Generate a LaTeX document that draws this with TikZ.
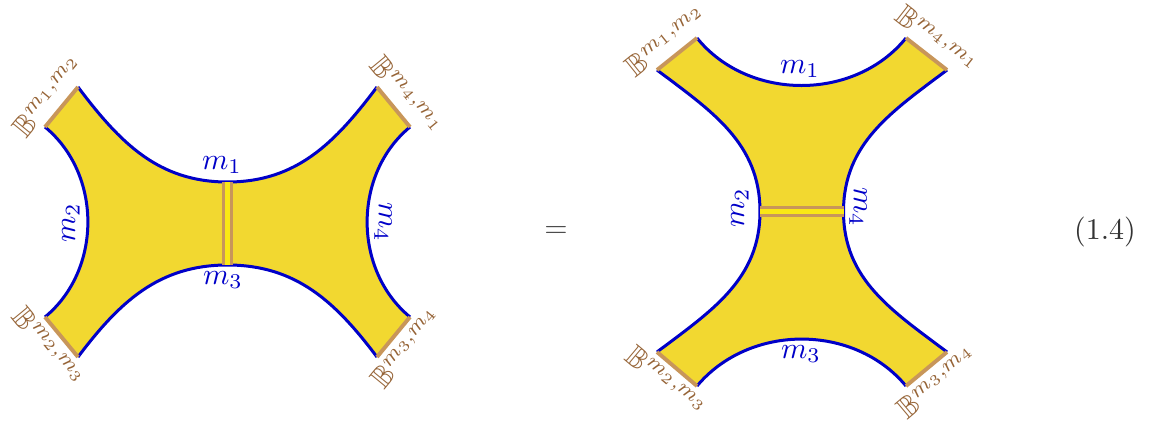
\documentclass[tikz,border=0pt]{standalone}
\usepackage{amsmath,amssymb}
\usepackage{tikz}
\usetikzlibrary{positioning, calc}
\definecolor{sheetyellow}{RGB}{242,216,48}
\definecolor{stripyellow}{RGB}{250,232,20}
\definecolor{edgetan}{RGB}{200,150,90}
\definecolor{labelbrown}{RGB}{150,100,55}
\definecolor{curveblue}{RGB}{0,0,200}

\begin{document}
\begin{tikzpicture}[x=0.3333pt, y=0.3333pt,
    blueedge/.style={draw=curveblue, line width=1pt},
    tanedge/.style={draw=edgetan, line width=1.3pt},
    strip/.style={draw=edgetan, line width=1.2pt, double=stripyellow, double distance=1.5pt},
    mlabel/.style={text=curveblue, inner sep=1pt},
    blabel/.style={text=labelbrown, inner sep=2pt}]
\useasboundingbox (0,0) rectangle (1153,423);

% left sheet
\coordinate (a1) at (45,296);  \coordinate (a2) at (78,336);
\coordinate (b1) at (377,336); \coordinate (b2) at (410,296);
\coordinate (c1) at (45,106);  \coordinate (c2) at (78,66);
\coordinate (d1) at (377,66);  \coordinate (d2) at (410,106);
\coordinate (lt) at (227.5,241); \coordinate (lb) at (227.5,158);

\fill[sheetyellow] (a2) to[out=-53,in=180] (lt) to[out=0,in=233] (b1) -- (b2)
    to[out=219.5,in=140.5] (d2) -- (d1) to[out=127,in=0] (lb) to[out=180,in=53] (c2)
    -- (c1) to[out=39.5,in=-39.5] (a1) -- cycle;
\draw[blueedge] (a2) to[out=-53,in=180] (lt) to[out=0,in=233] (b1);
\draw[blueedge] (b2) to[out=219.5,in=140.5] (d2);
\draw[blueedge] (d1) to[out=127,in=0] (lb) to[out=180,in=53] (c2);
\draw[blueedge] (c1) to[out=39.5,in=-39.5] (a1);
\draw[tanedge] (a1) -- (a2);
\draw[tanedge] (b1) -- (b2);
\draw[tanedge] (c1) -- (c2);
\draw[tanedge] (d1) -- (d2);
\draw[strip] (lt) -- (lb);

\node[mlabel] (lm1) at (222,258) {$m_1$};
\node[mlabel] (lm3) at (223,143) {$m_3$};
\node[mlabel, rotate=90] (lm2) at (71,200) {$m_2$};
\node[mlabel, rotate=-90] (lm4) at (383,201) {$m_4$};
\node[blabel, rotate=50.5, anchor=south] (lb12) at ($(a1)!0.5!(a2)$) {$\mathbb{B}^{m_1,m_2}$};
\node[blabel, rotate=-50.5, anchor=south] (lb41) at ($(b1)!0.5!(b2)$) {$\mathbb{B}^{m_4,m_1}$};
\node[blabel, rotate=-50.5, anchor=north] (lb23) at ($(c1)!0.5!(c2)$) {$\mathbb{B}^{m_2,m_3}$};
\node[blabel, rotate=50.5, anchor=north] (lb34) at ($(d1)!0.5!(d2)$) {$\mathbb{B}^{m_3,m_4}$};

\node[text=black!70] (eq) at (556,191) {$=$};

% right sheet
\coordinate (e1) at (657,353); \coordinate (e2) at (697,385);
\coordinate (f1) at (906,385); \coordinate (f2) at (947,353);
\coordinate (g1) at (657,71);  \coordinate (g2) at (697,37);
\coordinate (h1) at (906,37);  \coordinate (h2) at (947,71);
\coordinate (rl) at (760,211.5); \coordinate (rr) at (843.5,211.5);

\fill[sheetyellow] (e2) to[out=-51,in=231] (f1) -- (f2) to[out=217,in=90] (rr)
    to[out=-90,in=143] (h2) -- (h1) to[out=129.7,in=50] (g2) -- (g1)
    to[out=37,in=-90] (rl) to[out=90,in=-37] (e1) -- cycle;
\draw[blueedge] (e2) to[out=-51,in=231] (f1);
\draw[blueedge] (f2) to[out=217,in=90] (rr) to[out=-90,in=143] (h2);
\draw[blueedge] (h1) to[out=129.7,in=50] (g2);
\draw[blueedge] (g1) to[out=37,in=-90] (rl) to[out=90,in=-37] (e1);
\draw[tanedge] (e1) -- (e2);
\draw[tanedge] (f1) -- (f2);
\draw[tanedge] (g1) -- (g2);
\draw[tanedge] (h1) -- (h2);
\draw[strip] (rl) -- (rr);

\node[mlabel] (rm1) at (800,354) {$m_1$};
\node[mlabel] (rm3) at (801,69) {$m_3$};
\node[mlabel, rotate=90] (rm2) at (740,215) {$m_2$};
\node[mlabel, rotate=-90] (rm4) at (858,216) {$m_4$};
\node[blabel, rotate=38.7, anchor=south] (rb12) at ($(e1)!0.5!(e2)$) {$\mathbb{B}^{m_1,m_2}$};
\node[blabel, rotate=-38, anchor=south] (rb41) at ($(f1)!0.5!(f2)$) {$\mathbb{B}^{m_4,m_1}$};
\node[blabel, rotate=-40, anchor=north] (rb23) at ($(g1)!0.5!(g2)$) {$\mathbb{B}^{m_2,m_3}$};
\node[blabel, rotate=40, anchor=north] (rb34) at ($(h1)!0.5!(h2)$) {$\mathbb{B}^{m_3,m_4}$};

\node[text=black!80] (eqno) at (1105,191) {(1.4)};
\end{tikzpicture}
\end{document}
